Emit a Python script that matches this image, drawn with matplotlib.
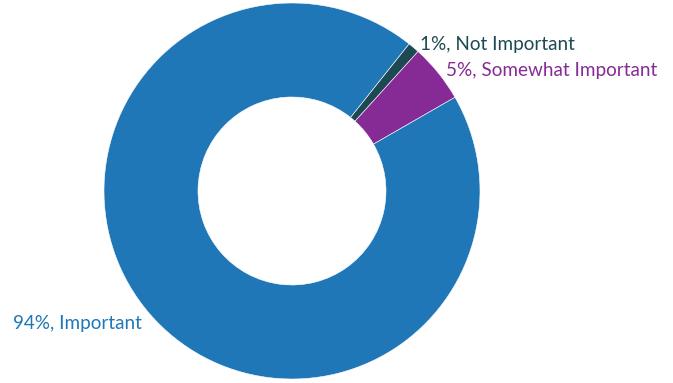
import matplotlib
matplotlib.use("Agg")
import matplotlib.pyplot as plt

categories = ["Not Important", "Somewhat Important", "Important"]
values = [1, 5, 94]
colors = ["#1d4a52", "#862a95", "#1f77b8"]

W, H = 673, 383
fig = plt.figure(figsize=(W / 100, H / 100), dpi=100)
cx, cy, r = 292, 191, 188
ax = fig.add_axes([(cx - r) / W, (H - cy - r) / H, 2 * r / W, 2 * r / H])
ax.set_xlim(-1, 1)
ax.set_ylim(-1, 1)
ax.axis("off")

labels = [f"{v}%, {c}" for v, c in zip(values, categories)]
wedges, texts = ax.pie(values, colors=colors, startangle=51.5, counterclock=False,
                       radius=1, labels=labels, labeldistance=1.05,
                       wedgeprops=dict(width=0.5, edgecolor="white", linewidth=0.4),
                       textprops=dict(fontsize=13.6, family="Lato"))
for t, c in zip(texts, colors):
    t.set_color(c)
    x, y = t.get_position()
    t.set_position((x, y - 0.02))
ax.set_xlim(-1, 1)
ax.set_ylim(-1, 1)

fig.savefig("out.png", dpi=100)
